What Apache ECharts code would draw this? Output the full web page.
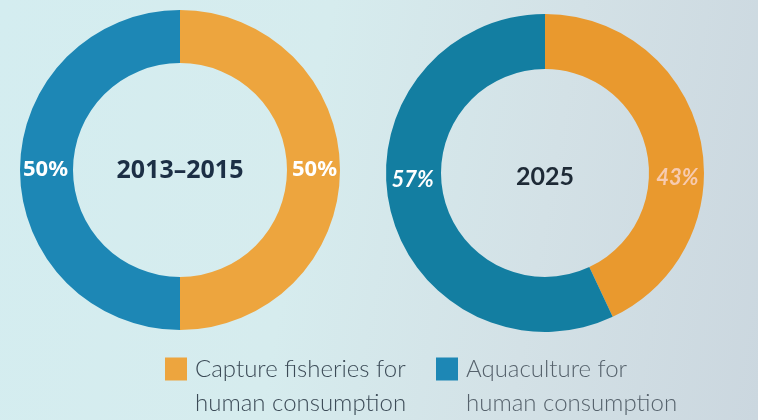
<!DOCTYPE html>
<html>
<head>
<meta charset="utf-8">
<script src="https://cdn.jsdelivr.net/npm/echarts@6/dist/echarts.min.js"></script>
<style>
  html, body { margin: 0; padding: 0; }
  #chart {
    width: 758px; height: 420px;
    background: linear-gradient(100deg, #d4edf0 0%, #d6ecee 40%, #d3e1e6 70%, #cbd7df 100%);
  }
</style>
</head>
<body>
<div id="chart"></div>
<script>
// Share of fish for human consumption, by source
const periods = ['2013–2015', '2025'];
const categories = ['Capture fisheries for human consumption', 'Aquaculture for human consumption'];
const capture = [50, 43];
const aquaculture = [50, 57];

const chart = echarts.init(document.getElementById('chart'), null, { renderer: 'canvas' });

// Ring geometry and colours for each donut
const rings = [
  { center: [180, 170], radius: [107, 160], orange: '#eda53e', blue: '#1d87b5',
    labelFont: 'Noto Sans', labelStyle: 'normal', titleFont: 'Noto Sans', titleColor: '#1c2f45',
    labelColors: ['#ffffff', '#ffffff'], labelDy: 0 },
  { center: [545, 173], radius: [104, 159], orange: '#e9992e', blue: '#137ea1',
    labelFont: 'Lato', labelStyle: 'italic', titleFont: 'Lato', titleColor: '#1e2a36',
    labelColors: ['#f7cbb0', '#ffffff'], labelDy: 6 }
];

// Move the inside labels onto the horizontal line through the donut centre
function labelOffset(values, idx, ring) {
  const total = values.reduce((a, b) => a + b, 0);
  let before = 0;
  for (let i = 0; i < idx; i++) before += values[i];
  const mid = (before + values[idx] / 2) / total * Math.PI * 2;
  const r = (ring.radius[0] + ring.radius[1]) / 2;
  const sx = r * Math.sin(mid), sy = -r * Math.cos(mid);
  const tx = (Math.sin(mid) >= 0 ? 1 : -1) * (r - 2), ty = ring.labelDy;
  return [tx - sx, ty - sy];
}

const series = periods.map((p, k) => {
  const ring = rings[k];
  const values = [capture[k], aquaculture[k]];
  return {
    type: 'pie',
    name: p,
    center: ring.center,
    radius: ring.radius,
    startAngle: 90,
    clockwise: true,
    silent: true,
    label: {
      show: true,
      position: 'inside',
      formatter: '{c}%',
      fontFamily: ring.labelFont,
      fontStyle: ring.labelStyle,
      fontWeight: 'bold',
      fontSize: 22
    },
    labelLine: { show: false },
    data: values.map((v, i) => ({
      name: categories[i],
      value: v,
      itemStyle: { color: i === 0 ? ring.orange : ring.blue },
      label: { offset: labelOffset(values, i, ring), color: ring.labelColors[i] }
    }))
  };
});

// Two-line legend text; an empty spacer line above keeps the swatch level with the first line
const legendLine = 34;
const legendText = name => {
  const parts = name.split(' human');
  return '{g| }\n{t|' + parts[0] + '}\n{t|human' + parts[1] + '}';
};
const legendRich = color => ({
  g: { fontSize: 10, lineHeight: legendLine },
  t: { fontFamily: 'Lato', fontWeight: 300, fontSize: 24, lineHeight: legendLine,
       color: color, padding: [0, 0, 0, 3] }
});
const legendBase = {
  orient: 'vertical',
  top: 325,
  icon: 'rect',
  itemWidth: 22,
  itemHeight: 23,
  selectedMode: false,
  formatter: legendText
};

chart.setOption({
  animation: false,
  legend: [
    Object.assign({}, legendBase, { left: 160, data: [categories[0]],
      textStyle: { rich: legendRich('#3c4b57') } }),
    Object.assign({}, legendBase, { left: 431, data: [categories[1]],
      textStyle: { rich: legendRich('#56626c') } })
  ],
  graphic: periods.map((p, k) => ({
    type: 'text',
    x: rings[k].center[0],
    y: rings[k].center[1] + (k === 0 ? 1 : 4),
    style: {
      text: p,
      textAlign: 'center',
      textVerticalAlign: 'middle',
      font: 'bold 25px "' + rings[k].titleFont + '"',
      fill: rings[k].titleColor
    }
  })),
  series: series
});
</script>
</body>
</html>
